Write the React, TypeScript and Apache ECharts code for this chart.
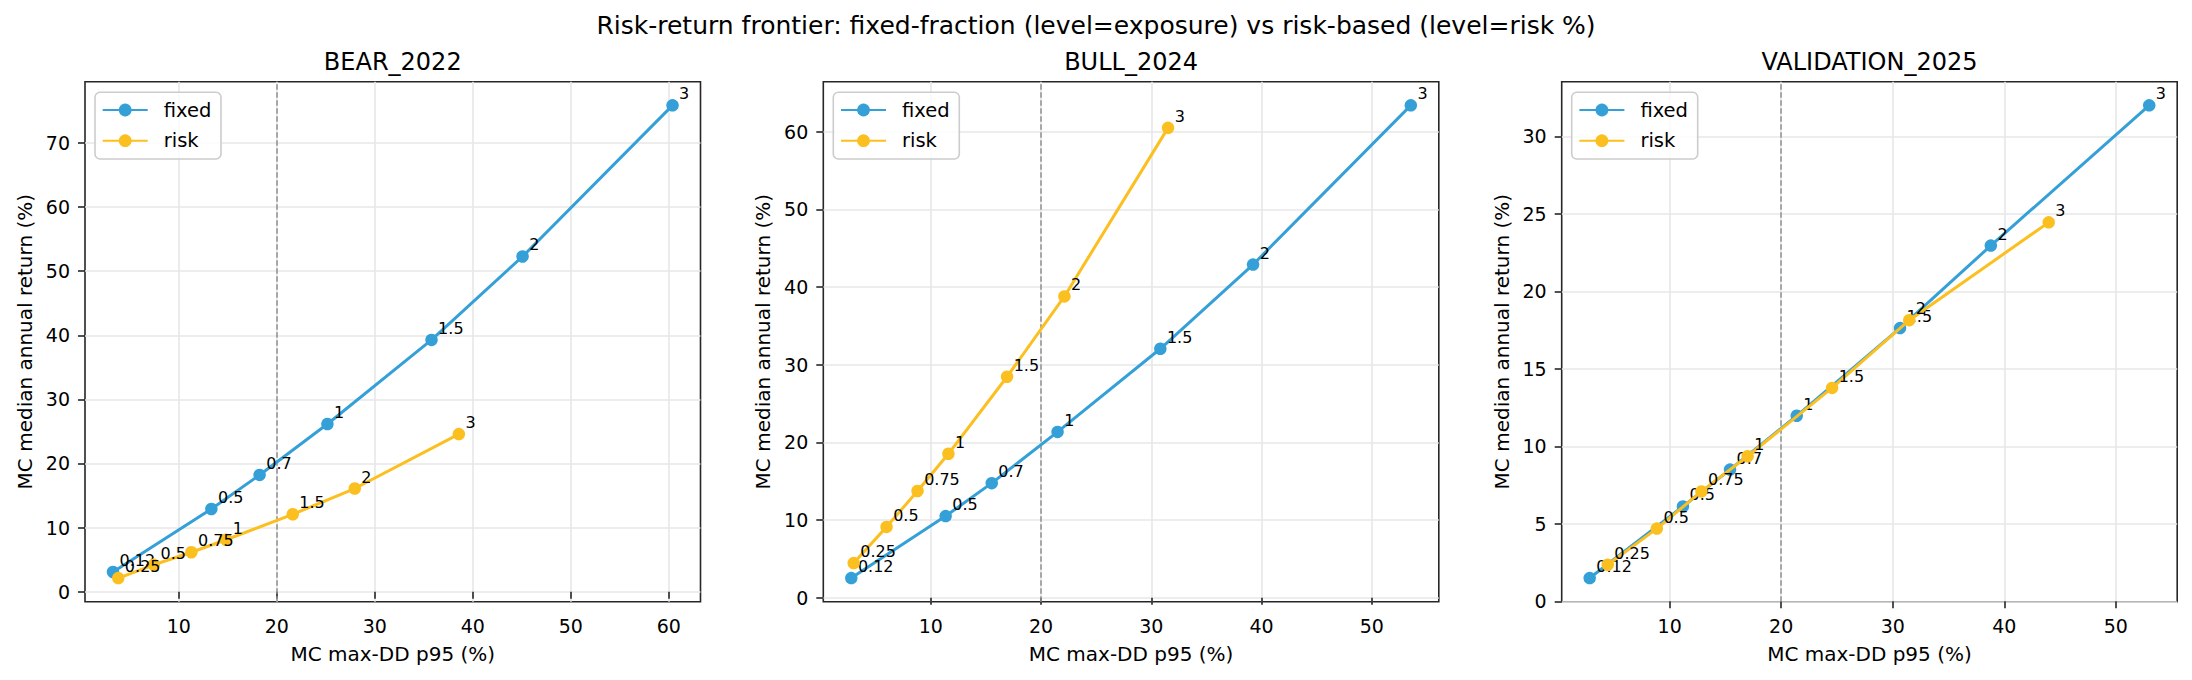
import React, { useEffect, useRef } from "react";
import * as echarts from "echarts";

// ---------------- data ----------------
const panelTitles = ["BEAR_2022", "BULL_2024", "VALIDATION_2025"];
const fixedLevels = ["0.12", "0.5", "0.7", "1", "1.5", "2", "3"];
const riskLevels = ["0.25", "0.5", "0.75", "1", "1.5", "2", "3"];

const bearFixedDD = [3.29, 13.33, 18.25, 25.17, 35.79, 45.08, 60.38];
const bearFixedRet = [3.07, 12.9, 18.21, 26.15, 39.27, 52.29, 75.87];
const bearRiskDD = [3.83, 7.46, 11.29, 14.83, 21.63, 27.96, 38.58];
const bearRiskRet = [2.12, 4.19, 6.15, 8.1, 12.07, 16.09, 24.58];

const bullFixedDD = [2.79, 11.35, 15.53, 21.5, 30.82, 39.23, 53.54];
const bullFixedRet = [2.54, 10.52, 14.76, 21.36, 32.06, 42.9, 63.4];
const bullRiskDD = [3.01, 5.99, 8.8, 11.6, 16.92, 22.12, 31.52];
const bullRiskRet = [4.47, 9.13, 13.75, 18.54, 28.46, 38.8, 60.5];

const valFixedDD = [2.83, 11.19, 15.41, 21.39, 30.65, 38.79, 52.99];
const valFixedRet = [1.5, 6.12, 8.5, 11.97, 17.63, 22.95, 32.0];
const valRiskDD = [4.45, 8.85, 12.85, 16.99, 24.56, 31.48, 43.98];
const valRiskRet = [2.36, 4.69, 7.09, 9.36, 13.77, 18.14, 24.45];

const ddLimit = 20;

const xTickValues = [
  [10, 20, 30, 40, 50, 60],
  [10, 20, 30, 40, 50],
  [10, 20, 30, 40, 50],
];
const yTickValues = [
  [0, 10, 20, 30, 40, 50, 60, 70],
  [0, 10, 20, 30, 40, 50, 60],
  [0, 5, 10, 15, 20, 25, 30],
];

const suptitle =
  "Risk-return frontier: fixed-fraction (level=exposure) vs risk-based (level=risk %)";
const xName = "MC max-DD p95 (%)";
const yName = "MC median annual return (%)";

// ---------------- styling ----------------
const FONT = "DejaVu Sans";
const BLUE = "#35a0d8";
const YELLOW = "#fbbf1f";

const panels = [
  { fx: bearFixedDD, fy: bearFixedRet, rx: bearRiskDD, ry: bearRiskRet },
  { fx: bullFixedDD, fy: bullFixedRet, rx: bullRiskDD, ry: bullRiskRet },
  { fx: valFixedDD, fy: valFixedRet, rx: valRiskDD, ry: valRiskRet },
];

const gridLefts = [85, 823.3, 1561.7];
const gridWidth = 615.5;
const gridTop = 81.7;
const gridHeight = 520;

function paddedExtent(vals: number[]) {
  const mn = Math.min(...vals);
  const mx = Math.max(...vals);
  const pad = (mx - mn) * 0.05;
  return [mn - pad, mx + pad];
}

function zip(xs: number[], ys: number[]) {
  return xs.map((x, i) => [x, ys[i]]);
}

export default function App() {
  const ref = useRef<HTMLDivElement>(null);

  useEffect(() => {
    if (!ref.current) return;
    const chart = echarts.init(ref.current, undefined, { renderer: "svg" });

    const grids: any[] = [];
    const xAxes: any[] = [];
    const yAxes: any[] = [];
    const series: any[] = [];
    const legends: any[] = [];
    const graphics: any[] = [];

    graphics.push({
      type: "text",
      x: 1096,
      y: 25.7,
      style: {
        text: suptitle,
        fontSize: 25,
        fontFamily: FONT,
        fill: "#000",
        align: "center",
        verticalAlign: "middle",
      },
    });

    panels.forEach((p, i) => {
      const left = gridLefts[i];
      grids.push({
        left,
        top: gridTop,
        width: gridWidth,
        height: gridHeight,
        show: true,
        borderColor: "#262626",
        borderWidth: 1.6,
        backgroundColor: "transparent",
        containLabel: false,
      });
      const [xmin, xmax] = paddedExtent([...p.fx, ...p.rx]);
      const [ymin, ymax] = paddedExtent([...p.fy, ...p.ry]);
      xAxes.push({
        type: "value",
        gridIndex: i,
        min: xmin,
        max: xmax,
        name: xName,
        nameLocation: "middle",
        nameGap: 42,
        nameTextStyle: { fontSize: 20, fontFamily: FONT, color: "#000" },
        axisLine: { show: false },
        axisTick: {
          show: true,
          inside: false,
          length: 7,
          lineStyle: { color: "#262626", width: 1.6 },
          customValues: xTickValues[i],
        },
        axisLabel: {
          show: true,
          margin: 15,
          fontSize: 19,
          fontFamily: FONT,
          color: "#000",
          customValues: xTickValues[i],
        },
        splitLine: { show: true, lineStyle: { color: "#e7e7e7", width: 1.6 } },
      });
      yAxes.push({
        type: "value",
        gridIndex: i,
        min: ymin,
        max: ymax,
        name: yName,
        nameLocation: "middle",
        nameGap: 50,
        nameRotate: 90,
        nameTextStyle: { fontSize: 20, fontFamily: FONT, color: "#000" },
        axisLine: { show: false },
        axisTick: {
          show: true,
          inside: false,
          length: 7,
          lineStyle: { color: "#262626", width: 1.6 },
          customValues: yTickValues[i],
        },
        axisLabel: {
          show: true,
          margin: 15,
          fontSize: 19,
          fontFamily: FONT,
          color: "#000",
          customValues: yTickValues[i],
        },
        splitLine: { show: true, lineStyle: { color: "#e7e7e7", width: 1.6 } },
      });

      const mkLabel = (levels: string[]) => ({
        show: true,
        position: "inside",
        offset: [6.6, -3.5],
        align: "left",
        verticalAlign: "bottom",
        fontSize: 16,
        fontFamily: FONT,
        color: "#000",
        formatter: (prm: any) => levels[prm.dataIndex],
      });

      series.push({
        type: "line",
        name: "fixed",
        xAxisIndex: i,
        yAxisIndex: i,
        data: zip(p.fx, p.fy),
        symbol: "circle",
        symbolSize: 12.5,
        color: BLUE,
        itemStyle: { color: BLUE },
        lineStyle: { color: BLUE, width: 3 },
        label: mkLabel(fixedLevels),
        emphasis: { disabled: true },
        z: 3,
        markLine: {
          silent: true,
          symbol: ["none", "none"],
          label: { show: false },
          lineStyle: { color: "#909090", width: 1.5, type: [5.5, 2.5] },
          data: [{ xAxis: ddLimit }],
          z: 1,
        },
      });
      series.push({
        type: "line",
        name: "risk",
        xAxisIndex: i,
        yAxisIndex: i,
        data: zip(p.rx, p.ry),
        symbol: "circle",
        symbolSize: 12.5,
        color: YELLOW,
        itemStyle: { color: YELLOW },
        lineStyle: { color: YELLOW, width: 3 },
        label: mkLabel(riskLevels),
        emphasis: { disabled: true },
        z: 4,
      });

      legends.push({
        data: ["fixed", "risk"],
        orient: "vertical",
        left: left + 10,
        top: gridTop + 10.6,
        itemWidth: 45,
        itemHeight: 16,
        itemGap: 10.7,
        padding: [7.7, 9.7, 8.3, 6.7],
        backgroundColor: "rgba(255,255,255,0.8)",
        borderColor: "#cccccc",
        borderWidth: 1.6,
        borderRadius: 5,
        selectedMode: false,
        textStyle: {
          fontSize: 19.5,
          fontFamily: FONT,
          color: "#000",
          lineHeight: 20,
          padding: [0, 0, 0, 11],
        },
      });

      graphics.push({
        type: "text",
        x: left + gridWidth / 2,
        y: 61.7,
        style: {
          text: panelTitles[i],
          fontSize: 24,
          fontFamily: FONT,
          fill: "#000",
          align: "center",
          verticalAlign: "middle",
        },
      });
    });

    chart.setOption({
      animation: false,
      backgroundColor: "#ffffff",
      textStyle: { fontFamily: FONT },
      grid: grids,
      xAxis: xAxes,
      yAxis: yAxes,
      legend: legends,
      series,
      graphic: graphics,
    });

    return () => {
      chart.dispose();
    };
  }, []);

  return (
    <div
      ref={ref}
      style={{
        position: "absolute",
        left: 0,
        top: 0,
        width: 2192,
        height: 680,
        background: "#fff",
      }}
    />
  );
}
